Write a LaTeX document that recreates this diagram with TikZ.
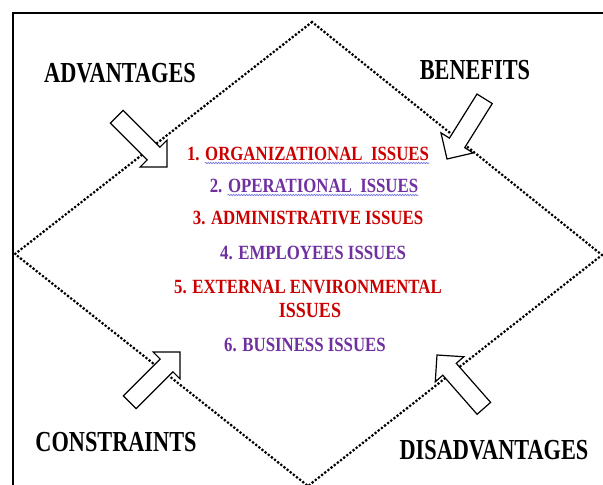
\documentclass[tikz,border=0pt]{standalone}
\usepackage{fontspec}
\setmainfont{Liberation Serif}
\usetikzlibrary{decorations.pathmorphing}
\definecolor{itemred}{RGB}{204,0,0}
\definecolor{itempurple}{RGB}{112,48,160}
\definecolor{wavyline}{RGB}{120,120,230}
\newcommand\vstretch[2]{\scalebox{1}[#1]{#2}}
\newcommand\blockarrow[2]{%
  \begin{scope}[shift={(#1)}, rotate=#2]
    \draw[arrowbox] (0,0) -- (-19,19) -- (-19,9) -- (-71,9) -- (-71,-9) -- (-19,-9) -- (-19,-19) -- cycle;
  \end{scope}}
\tikzset{
  lbl/.style={font=\bfseries\fontsize{22.3}{25}\selectfont, inner sep=0pt},
  item/.style={font=\bfseries\fontsize{16.8}{19}\selectfont, inner sep=0pt},
  redtxt/.style={item, text=itemred},
  purtxt/.style={item, text=itempurple},
  dotline/.style={line width=3.1pt, line cap=round, dash pattern=on 0pt off 4pt},
  arrowbox/.style={draw=black, fill=white, line width=1.2pt, line join=miter},
  frameline/.style={line width=2.8pt},
  squiggle/.style={draw=wavyline, line width=0.7pt, decorate, decoration={snake, amplitude=0.7pt, segment length=2.6pt}}
}
\begin{document}
\begin{tikzpicture}[x=1pt,y=-1pt]
  \useasboundingbox[fill=white] (0,0) rectangle (603,485);
  % frame
  \coordinate (fbl) at (13,486);
  \coordinate (ftr) at (604,13);
  \draw[frameline] (fbl) |- (ftr);
  % dotted diamond
  \coordinate (dtop) at (312,22);
  \coordinate (dright) at (602,255);
  \coordinate (dbottom) at (308,486);
  \coordinate (dleft) at (15,254);
  \draw[dotline] (dtop) -- (dright) -- (dbottom) -- (dleft) -- cycle;
  % block arrows
  \coordinate (advtip) at (167,167);
  \coordinate (bentip) at (447,159);
  \coordinate (contip) at (180,352);
  \coordinate (distip) at (437,355);
  \blockarrow{advtip}{-45}
  \blockarrow{bentip}{-122}
  \blockarrow{contip}{45}
  \blockarrow{distip}{131.3}
  % corner labels
  \node[lbl] (adv) at (120,73) {\vstretch{1.3}{ADVANTAGES}};
  \node[lbl] (ben) at (475,70) {\vstretch{1.3}{BENEFITS}};
  \node[lbl] (con) at (116,442) {\vstretch{1.3}{CONSTRAINTS}};
  \node[lbl] (dis) at (494,450) {\vstretch{1.3}{DISADVANTAGES}};
  % issues
  \node[redtxt] (i1) at (308,154) {\vstretch{1.2}{1. ORGANIZATIONAL\ \ ISSUES}};
  \node[purtxt] (i2) at (314,186) {\vstretch{1.2}{2. OPERATIONAL\ \ ISSUES}};
  \node[redtxt] (i3) at (308,218) {\vstretch{1.2}{3. ADMINISTRATIVE ISSUES}};
  \node[purtxt] (i4) at (313,253) {\vstretch{1.2}{4. EMPLOYEES ISSUES}};
  \node[redtxt] (i5) at (308,287) {\vstretch{1.2}{5. EXTERNAL ENVIRONMENTAL}};
  \node[redtxt, font=\bfseries\fontsize{18}{20}\selectfont] (i5b) at (310,310) {\vstretch{1.2}{ISSUES}};
  \node[purtxt] (i6) at (305,345) {\vstretch{1.2}{6. BUSINESS ISSUES}};
  % spelling-style underlines
  \draw[squiggle] ([xshift=18pt,yshift=-2pt]i1.south west) -- ([yshift=-2pt]i1.south east);
  \draw[squiggle] ([xshift=18pt,yshift=-2pt]i2.south west) -- ([yshift=-2pt]i2.south east);
\end{tikzpicture}
\end{document}
